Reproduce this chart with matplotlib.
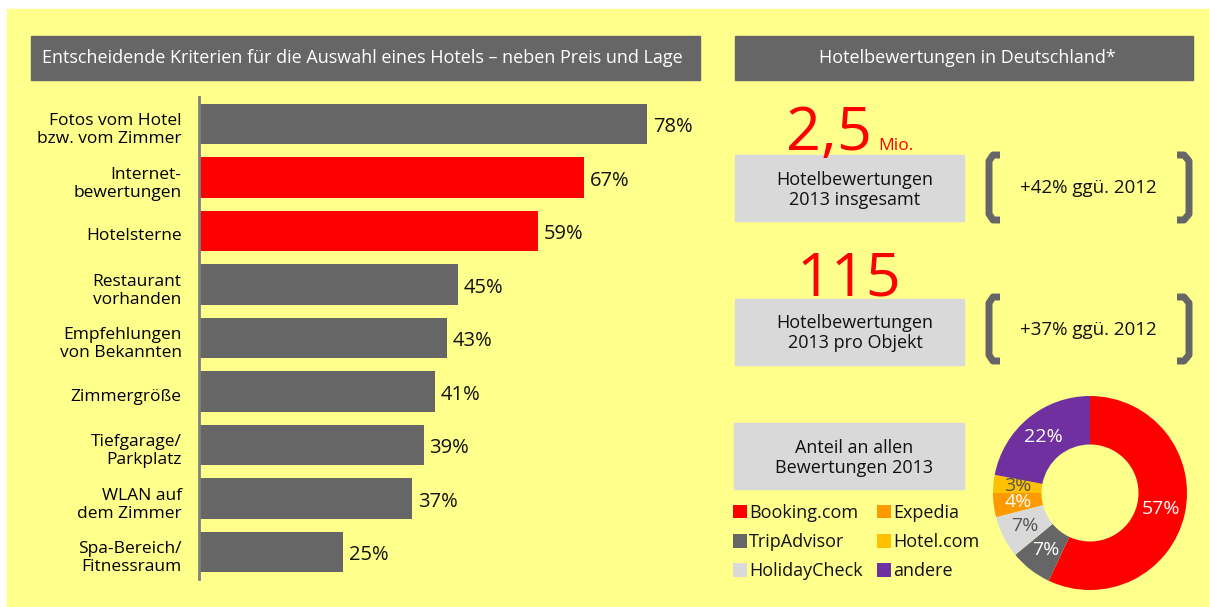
import matplotlib
matplotlib.use("Agg")
import matplotlib.pyplot as plt
import matplotlib.transforms as mtransforms
from matplotlib.patches import Rectangle
from matplotlib.lines import Line2D

plt.rcParams['font.family'] = ['Open Sans', 'DejaVu Sans']
plt.rcParams['text.color'] = '#111111'

# data
kriterien = ["Fotos vom Hotel\nbzw. vom Zimmer", "Internet-\nbewertungen", "Hotelsterne",
             "Restaurant\nvorhanden", "Empfehlungen\nvon Bekannten", "Zimmergröße",
             "Tiefgarage/\nParkplatz", "WLAN auf\ndem Zimmer", "Spa-Bereich/\nFitnessraum"]
anteile = [78, 67, 59, 45, 43, 41, 39, 37, 25]
hervorgehoben = [False, True, True, False, False, False, False, False, False]

portale = ["Booking.com", "TripAdvisor", "HolidayCheck", "Expedia", "Hotel.com", "andere"]
portal_anteile = [57, 7, 7, 4, 3, 22]

GELB = "#FFFF8C"
GRAU = "#666666"
HELLGRAU = "#D9D9D9"
ROT = "#FF0000"
portal_farben = [ROT, GRAU, HELLGRAU, "#FF9900", "#FFC000", "#7030A0"]
portal_textfarben = ["white", "white", "#555555", "white", "#555555", "white"]

W, H = 1209, 607
fig = plt.figure(figsize=(W / 100, H / 100), dpi=100)
fig.patch.set_facecolor("white")


def fx(x):
    return x / W


def fy(y):
    return 1 - y / H


def box(x0, y0, x1, y1, color):
    fig.patches.append(Rectangle((fx(x0), fy(y1)), (x1 - x0) / W, (y1 - y0) / H,
                                 transform=fig.transFigure, color=color, zorder=-2))


def txt(x, y, s, **kw):
    fig.text(fx(x), fy(y), s, **kw)


# background and title bars
box(7, 9, W, H, GELB)
box(31, 36, 700, 80, GRAU)
box(735, 36, 1193, 80, GRAU)
txt(362, 58, "Entscheidende Kriterien für die Auswahl eines Hotels – neben Preis und Lage",
    color="white", fontsize=13, ha="center", va="center")
txt(967, 58, "Hotelbewertungen in Deutschland*", color="white", fontsize=13,
    ha="center", va="center")

# bar chart
ax = fig.add_axes([fx(199), fy(578.75), 573 / W, (578.75 - 97.25) / H])
ax.patch.set_visible(False)
farben = [ROT if h else GRAU for h in hervorgehoben]
y = list(range(len(kriterien)))
ax.barh(y, anteile, height=0.75, color=farben, left=0.2)
ax.set_xlim(0, 100)
ax.set_ylim(len(kriterien) - 0.5, -0.5)
ax.set_yticks(y)
ax.set_yticklabels(kriterien, fontsize=12.5, linespacing=1.15)
ax.tick_params(axis="y", length=0, pad=12.5)
ax.set_xticks([])
for s in ["top", "right", "bottom"]:
    ax.spines[s].set_visible(False)
ax.spines["left"].set_color("#7f7f7f")
ax.spines["left"].set_linewidth(2)

runter = mtransforms.ScaledTranslation(0, -2.5 / 72, fig.dpi_scale_trans)
for lab in ax.get_yticklabels():
    lab.set_transform(lab.get_transform() + runter)
for yi, v in zip(y, anteile):
    ax.text(v + 1.2, yi, f"{v}%", va="center", ha="left", fontsize=14.5,
            transform=ax.transData + runter)

# key figures
txt(829, 150, "2,5", color=ROT, fontsize=44, ha="center", va="baseline")
txt(878, 150, "Mio.", color=ROT, fontsize=12.5, ha="left", va="baseline")
txt(849, 295, "115", color=ROT, fontsize=44, ha="center", va="baseline")

box(735, 155, 964, 221, HELLGRAU)
txt(855, 190, "Hotelbewertungen\n2013 insgesamt", fontsize=13, ha="center", va="center",
    linespacing=1.1)
box(735, 299, 964, 365, HELLGRAU)
txt(855, 333, "Hotelbewertungen\n2013 pro Objekt", fontsize=13, ha="center", va="center",
    linespacing=1.1)
box(734, 423, 964, 489, HELLGRAU)
txt(854, 458, "Anteil an allen\nBewertungen 2013", fontsize=13, ha="center", va="center",
    linespacing=1.1)


def klammer(xs, ys):
    fig.lines.append(Line2D([fx(v) for v in xs], [fy(v) for v in ys], transform=fig.transFigure,
                            color=GRAU, lw=5, solid_capstyle="butt", solid_joinstyle="round"))


for top, bot in [(153, 222), (295, 363)]:
    klammer([1000, 993, 989, 989, 993, 1000], [top + 2, top + 2, top + 8, bot - 8, bot - 2, bot - 2])
    klammer([1177, 1184, 1189, 1189, 1184, 1177], [top + 2, top + 2, top + 8, bot - 8, bot - 2, bot - 2])

txt(1088, 188, "+42% ggü. 2012", fontsize=13.5, ha="center", va="center")
txt(1088, 330, "+37% ggü. 2012", fontsize=13.5, ha="center", va="center")

# donut
pax = fig.add_axes([fx(993), fy(590), 194 / W, 194 / H])
wedges, _, autotexts = pax.pie(portal_anteile, colors=portal_farben, startangle=90,
                               counterclock=False, radius=1, pctdistance=0.75,
                               autopct=lambda p: f"{p:.0f}%",
                               wedgeprops=dict(width=0.5, linewidth=0))
for t, c in zip(autotexts, portal_textfarben):
    t.set_color(c)
    t.set_fontsize(14)
pax.set_xlim(-1, 1)
pax.set_ylim(-1, 1)
pax.set_aspect("equal")

fig.legend(wedges, portale, ncol=2, loc="upper left",
           bbox_to_anchor=(fx(733), fy(504)), frameon=False, fontsize=13,
           handlelength=0.75, handleheight=0.75, handletextpad=0.15,
           columnspacing=0.8, labelspacing=0.62, borderpad=0, borderaxespad=0)

fig.savefig("out.png", dpi=100, facecolor=fig.get_facecolor())
